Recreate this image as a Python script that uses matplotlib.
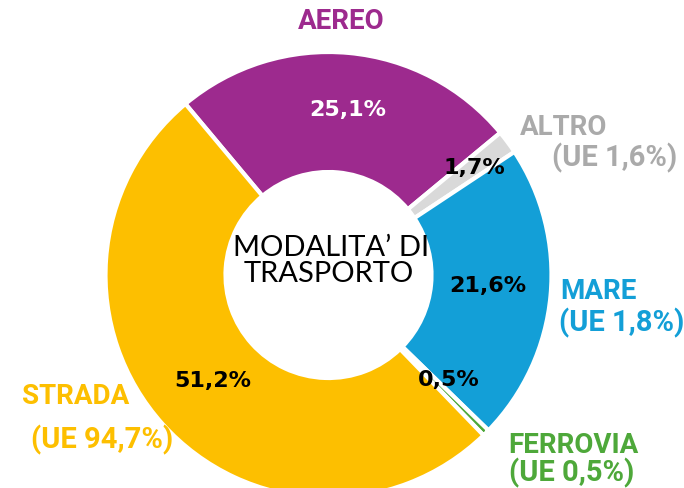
import matplotlib.pyplot as plt

# data (clockwise from upper left)
modes = ["AEREO", "ALTRO", "MARE", "FERROVIA", "STRADA"]
shares = [25.1, 1.7, 21.6, 0.5, 51.2]
pct_labels = ["25,1%", "1,7%", "21,6%", "0,5%", "51,2%"]
eu_labels = ["", "(UE 1,6%)", "(UE 1,8%)", "(UE 0,5%)", "(UE 94,7%)"]
colors = ["#9d2a8e", "#d9d9d9", "#139fd7", "#4ea83a", "#fdbf00"]
text_colors = ["#9d2a8e", "#aaaaaa", "#139fd7", "#4ea83a", "#fdbf00"]

W, H = 684, 489
fig = plt.figure(figsize=(W / 100, H / 100), dpi=100)
ax = fig.add_axes([0, 0, 1, 1])

cx, cy, R = 328.5, H - 276, 223
ax.pie(shares, colors=colors, startangle=129.9, counterclock=False,
       center=(cx, cy), radius=R, frame=True,
       wedgeprops=dict(width=R - 103, edgecolor="white", linewidth=3))
ax.set_xlim(0, W)
ax.set_ylim(0, H)
ax.set_aspect("equal")
ax.axis("off")


def put(x, y, s, family="Roboto", **kw):
    ax.text(x, H - y, s, family=family, fontweight="bold",
            ha="center", va="center", **kw)


# percentages on the ring
pct_pos = [(348, 110), (474, 168), (488, 286), (449, 380), (213, 381)]
pct_cols = ["white", "black", "black", "black", "black"]
for (x, y), s, c in zip(pct_pos, pct_labels, pct_cols):
    put(x, y, s, family="DejaVu Sans", color=c, fontsize=16)

# category names and EU shares
name_pos = [(341, 22), (564, 128), (598, 292), (573, 446), (76, 397)]
eu_pos = [None, (615, 158), (622, 323), (572, 473), (102, 440)]
for i in range(len(modes)):
    put(*name_pos[i], modes[i], color=text_colors[i], fontsize=20)
    if eu_pos[i]:
        put(*eu_pos[i], eu_labels[i], color=text_colors[i], fontsize=21)

# centre title
ax.text(331, H - 248, "MODALITA\u2019 DI", family="Lato", fontsize=21,
        ha="center", va="center", color="black")
ax.text(329, H - 274, "TRASPORTO", family="Lato", fontsize=21,
        ha="center", va="center", color="black")

fig.savefig("out.png", dpi=100)
